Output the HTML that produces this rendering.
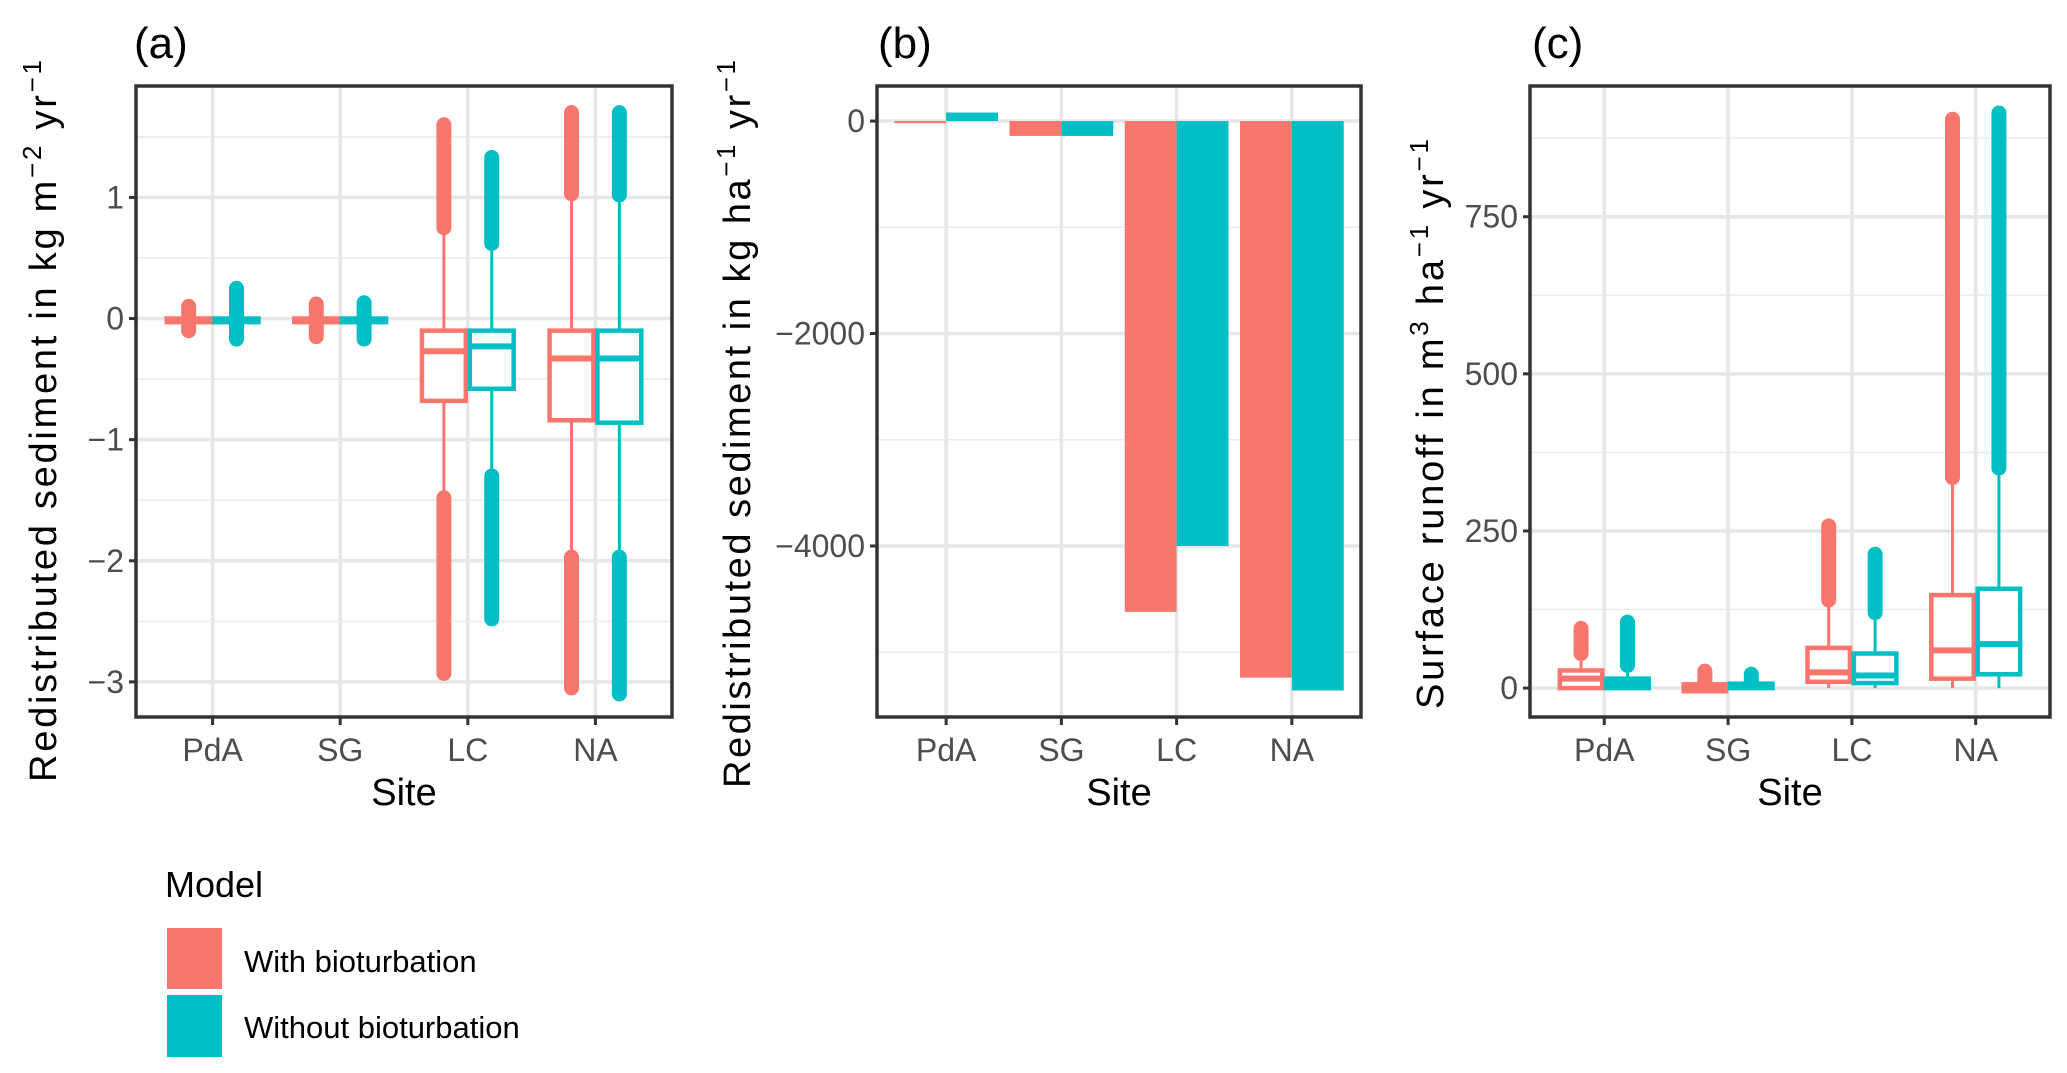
<!DOCTYPE html>
<html><head><meta charset="utf-8"><style>
html,body{margin:0;padding:0;background:#fff}
svg{display:block;font-family:"Liberation Sans",Arial,sans-serif}
</style></head><body>
<svg id="fig" width="2067" height="1073" viewBox="0 0 2067 1073" xmlns="http://www.w3.org/2000/svg">
</svg>
<script>
const NS="http://www.w3.org/2000/svg";
const RED="#F8766D", BLUE="#00BFC4";
const sites=["PdA","SG","LC","NA"];
// Panel (a) boxplot stats: [q1, median, q3, whiskerLow, whiskerHigh, outLowMin, outLowMax, outHighMin, outHighMax] (null = none)
const aWith=[[-0.03,-0.01,0.0,-0.05,0.02,-0.1,-0.05,0.02,0.1],[-0.03,-0.01,0.0,-0.05,0.02,-0.15,-0.05,0.02,0.12],[-0.68,-0.27,-0.1,-1.48,0.75,-2.93,-1.48,0.75,1.6],[-0.84,-0.33,-0.1,-1.97,1.03,-3.05,-1.97,1.03,1.7]];
const aWithout=[[-0.03,-0.01,0.0,-0.05,0.02,-0.17,-0.05,0.02,0.25],[-0.03,-0.01,0.0,-0.05,0.02,-0.17,-0.05,0.02,0.13],[-0.58,-0.23,-0.1,-1.3,0.62,-2.48,-1.3,0.62,1.33],[-0.86,-0.33,-0.1,-1.97,1.02,-3.1,-1.97,1.02,1.7]];
const aTicks=[1,0,-1,-2,-3];
const aTickLabels=["1","0","\u22121","\u22122","\u22123"];
// Panel (b) bars
const bWith=[-20,-140,-4620,-5240];
const bWithout=[80,-140,-4000,-5360];
const bTicks=[0,-2000,-4000];
const bTickLabels=["0","\u22122000","\u22124000"];
// Panel (c) boxplot stats
const cWith=[[0,15,28,0,50,null,null,55,95],[-5,0,6,-5,8,null,null,10,27],[10,25,64,0,135,null,null,140,258],[15,60,148,0,330,null,null,335,905]];
const cWithout=[[0,8,15,0,33,null,null,36,105],[0,2,7,0,8,null,null,9,22],[8,20,55,0,115,null,null,120,213],[22,70,158,0,345,null,null,350,915]];
const cTicks=[0,250,500,750];
const cTickLabels=["0","250","500","750"];

const svg=document.getElementById('fig');
function el(tag,attrs,parent,text){const e=document.createElementNS(NS,tag);for(const k in attrs)e.setAttribute(k,attrs[k]);if(text!==undefined)e.textContent=text;(parent||svg).appendChild(e);return e;}

function panel(cfg){
  const g=el('g',{});
  
  
  const {L,R,T,B,ymin,ymax}=cfg;
  const y=v=>B-(v-ymin)/(ymax-ymin)*(B-T);
  const step=(R-L)/4.2;
  const x=i=>L+step*(i+0.6);
  for(let i=0;i<cfg.ticks.length-1;i++){
    const m=(cfg.ticks[i]+cfg.ticks[i+1])/2;
    el('line',{x1:L,x2:R,y1:y(m),y2:y(m),stroke:"#ebebeb","stroke-width":1.5},g);
  }
  if(cfg.extraMinor) cfg.extraMinor.forEach(m=>{ if(y(m)>T&&y(m)<B) el('line',{x1:L,x2:R,y1:y(m),y2:y(m),stroke:"#ebebeb","stroke-width":1.5},g);});
  cfg.ticks.forEach((t,i)=>{
    el('line',{x1:L,x2:R,y1:y(t),y2:y(t),stroke:"#e6e6e6","stroke-width":3.5},g);
    el('line',{x1:L-7,x2:L,y1:y(t),y2:y(t),stroke:"#333","stroke-width":3},g);
    const tl=el('text',{x:L-12,y:y(t)+11,"text-anchor":"end","font-size":32,fill:"#4d4d4d"},g,cfg.tickLabels[i]);
    
    
  });
  sites.forEach((s,i)=>{
    el('line',{x1:x(i),x2:x(i),y1:T,y2:B,stroke:"#e6e6e6","stroke-width":3.5},g);
    el('line',{x1:x(i),x2:x(i),y1:B,y2:B+8,stroke:"#333","stroke-width":3},g);
    const xl=el('text',{x:x(i),y:B+44,"text-anchor":"middle","font-size":32,fill:"#4d4d4d"},g,s);
    
    
  });
  cfg.draw(g,x,y,step);
  el('rect',{x:L,y:T,width:R-L,height:B-T,fill:"none",stroke:"#333","stroke-width":3.5},g);
  const xt=el('text',{x:(L+R)/2,y:B+88,"text-anchor":"middle","font-size":38,fill:"#000"},g,"Site");
  
  
  const pl=el('text',{x:cfg.labX,y:58,"font-size":44,fill:"#000"},g,cfg.label);
  
  
  return g;
}

function boxes(g,x,y,step,stats,off,color,w){
  stats.forEach((s,i)=>{
    const c=x(i)+off*step*0.1875;
    const bw=step*0.375;
    const [q1,med,q3,wl,wh,ol0,ol1,oh0,oh1]=s;
    const bg=el('g',{},g);
    
    
    if(ol0!==null) el('line',{x1:c,x2:c,y1:y(ol0),y2:y(ol1),stroke:color,"stroke-width":w,"stroke-linecap":"round"},bg);
    if(oh0!==null) el('line',{x1:c,x2:c,y1:y(oh0),y2:y(oh1),stroke:color,"stroke-width":w,"stroke-linecap":"round"},bg);
    el('line',{x1:c,x2:c,y1:y(wh),y2:y(wl),stroke:color,"stroke-width":3},bg);
    el('rect',{x:c-bw/2+2,y:y(q3),width:bw-4,height:Math.max(y(q1)-y(q3),2),fill:"#fff",stroke:color,"stroke-width":4.5},bg);
    el('line',{x1:c-bw/2+2,x2:c+bw/2-2,y1:y(med),y2:y(med),stroke:color,"stroke-width":6},bg);
  });
}

panel({name:'panel-a',L:136,R:672,T:86,B:717,ymin:-3.29,ymax:1.92,ticks:aTicks,tickLabels:aTickLabels,extraMinor:[1.5],label:"(a)",labX:134,
  draw:(g,x,y,step)=>{boxes(g,x,y,step,aWith,-1,RED,15);boxes(g,x,y,step,aWithout,1,BLUE,15);}});
panel({name:'panel-b',L:877,R:1361,T:86,B:717,ymin:-5610,ymax:330,ticks:bTicks,tickLabels:bTickLabels,extraMinor:[-5000],label:"(b)",labX:878,
  draw:(g,x,y,step)=>{
    const bw=step*0.45;
    [[bWith,RED,-1],[bWithout,BLUE,0]].forEach(([arr,col,o])=>{
      arr.forEach((v,i)=>{
        const x0=x(i)+o*bw;
        const r=el('rect',{x:x0,y:Math.min(y(0),y(v)),width:bw,height:Math.max(Math.abs(y(v)-y(0)),1.5),fill:col},g);
        
        
      });
    });
  }});
panel({name:'panel-c',L:1530,R:2050,T:86,B:717,ymin:-46,ymax:958,ticks:cTicks,tickLabels:cTickLabels,extraMinor:[875],label:"(c)",labX:1532,
  draw:(g,x,y,step)=>{boxes(g,x,y,step,cWith,-1,RED,15);boxes(g,x,y,step,cWithout,1,BLUE,15);}});

function ytitle(cx,cy,len,unit){
  const t=el('text',{transform:`translate(${cx},${cy}) rotate(-90)`,"text-anchor":"middle","font-size":38,fill:"#000",textLength:len,lengthAdjust:"spacing"});
  
  
  unit.forEach(([s,sup])=>{
    el('tspan',sup?{"baseline-shift":"super","font-size":26}:{},t,s);
  });
}
ytitle(56,421,722,[["Redistributed sediment in  kg  m"],["\u22122",1],["  yr"],["\u22121",1]]);
ytitle(750,424,728,[["Redistributed sediment in  kg  ha"],["\u22121",1],["  yr"],["\u22121",1]]);
ytitle(1443,424,570,[["Surface runoff in  m"],["3",1],["  ha"],["\u22121",1],["  yr"],["\u22121",1]]);

const lg=el('g',{});


el('text',{x:165,y:897,"font-size":36,fill:"#000"},lg,"Model");
const k1=el('rect',{x:167,y:928,width:55,height:61,fill:RED},lg);


const k2=el('rect',{x:167,y:995,width:55,height:62,fill:BLUE},lg);


el('text',{x:244,y:972,"font-size":31,fill:"#000"},lg,"With bioturbation");
el('text',{x:244,y:1038,"font-size":31,fill:"#000"},lg,"Without bioturbation");
</script>
</body></html>
